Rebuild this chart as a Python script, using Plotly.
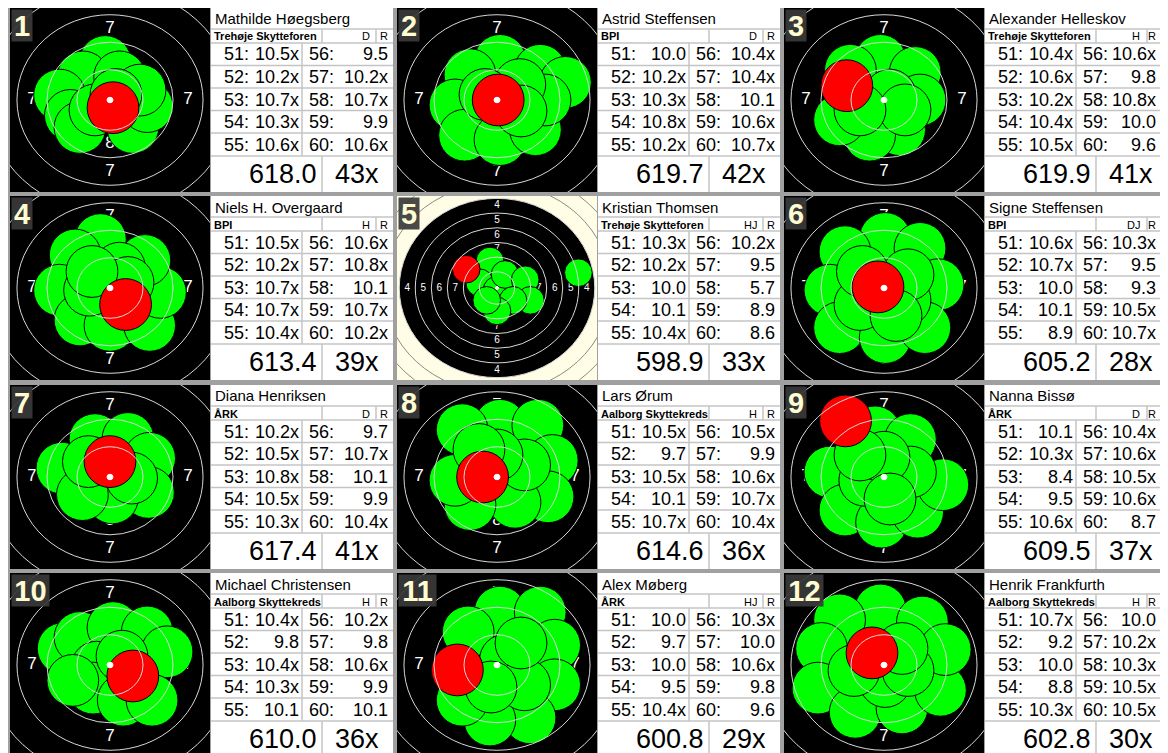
import plotly.graph_objects as go

W, H = 1168, 753              # reference picture size
OFF = 8                       # page body margin of the browser
FW, FH = W - 2 * OFF, H - OFF # visible figure size inside the page body
FONT = "Liberation Sans, Arial, sans-serif"

# ---------------- DATA ----------------
names = ["Mathilde Høegsberg", "Astrid Steffensen", "Alexander Helleskov",
         "Niels H. Overgaard", "Kristian Thomsen", "Signe Steffensen",
         "Diana Henriksen", "Lars Ørum", "Nanna Bissø",
         "Michael Christensen", "Alex Møberg", "Henrik Frankfurth"]
clubs = ["Trehøje Skytteforen", "BPI", "Trehøje Skytteforen",
         "BPI", "Trehøje Skytteforen", "BPI",
         "ÅRK", "Aalborg Skyttekreds", "ÅRK",
         "Aalborg Skyttekreds", "ÅRK", "Aalborg Skyttekreds"]
classes = ["D", "D", "H", "H", "HJ", "DJ", "D", "H", "D", "H", "HJ", "H"]
shot_numbers = [51, 52, 53, 54, 55, 56, 57, 58, 59, 60]
scores = [
    ["10.5x", "10.2x", "10.7x", "10.3x", "10.6x", "9.5", "10.2x", "10.7x", "9.9", "10.6x"],
    ["10.0", "10.2x", "10.3x", "10.8x", "10.2x", "10.4x", "10.4x", "10.1", "10.6x", "10.7x"],
    ["10.4x", "10.6x", "10.2x", "10.4x", "10.5x", "10.6x", "9.8", "10.8x", "10.0", "9.6"],
    ["10.5x", "10.2x", "10.7x", "10.7x", "10.4x", "10.6x", "10.8x", "10.1", "10.7x", "10.2x"],
    ["10.3x", "10.2x", "10.0", "10.1", "10.4x", "10.2x", "9.5", "5.7", "8.9", "8.6"],
    ["10.6x", "10.7x", "10.0", "10.1", "8.9", "10.3x", "9.5", "9.3", "10.5x", "10.7x"],
    ["10.2x", "10.5x", "10.8x", "10.5x", "10.3x", "9.7", "10.7x", "10.1", "9.9", "10.4x"],
    ["10.5x", "9.7", "10.5x", "10.1", "10.7x", "10.5x", "9.9", "10.6x", "10.7x", "10.4x"],
    ["10.1", "10.3x", "8.4", "9.5", "10.6x", "10.4x", "10.6x", "10.5x", "10.6x", "8.7"],
    ["10.4x", "9.8", "10.4x", "10.3x", "10.1", "10.2x", "9.8", "10.6x", "9.9", "10.1"],
    ["10.0", "9.7", "10.0", "9.5", "10.4x", "10.3x", "10.0", "10.6x", "9.8", "9.6"],
    ["10.7x", "9.2", "10.0", "8.8", "10.3x", "10.0", "10.2x", "10.3x", "10.5x", "10.5x"],
]
totals = ["618.0", "619.7", "619.9", "613.4", "598.9", "605.2",
          "617.4", "614.6", "609.5", "610.0", "600.8", "602.8"]
inner_tens = ["43x", "42x", "41x", "39x", "33x", "28x",
              "41x", "36x", "37x", "36x", "29x", "30x"]

# shot positions in mm from the target centre (last one = latest shot, red)
shots_x = [
    [-0.4, -2.25, -4.2, -3.3, -2.5, 1.9, 3.1, 0.8, 2.5, -1.25, 0.5, 0.25],
    [0.25, -2.25, 3.6, 5.7, -3.5, -2.7, 0.25, 3.2, 4.0, 1.9, -1.0, 2.0, 0.1],
    [-0.3, -2.8, 2.6, 3.0, 1.3, -1.2, -3.7, 0.5, 1.75, -2.0, -3.1],
    [-0.8, -2.9, -4.2, -2.5, 0.0, 3.3, 4.2, 2.9, 0.8, -1.7, 1.5, -1.5, 1.3],
    [-1.1, -2.7, 0.0, 1.25, 4.4, 5.2, 2.5, 0.0, -1.6, 12.7, -4.8],
    [0.1, -3.25, 3.0, -4.5, 4.5, -3.7, 0.1, 3.4, 1.75, -2.0, 2.0, -1.8, 1.0, -0.5],
    [-4.0, -1.25, 1.5, 3.3, 3.2, 0.2, -2.3, -1.8, 1.8, 0.0],
    [0.25, -2.9, 3.4, 4.6, 4.25, 1.5, -2.25, -3.5, 2.3, 0.0, -1.5, -1.2],
    [-0.75, 2.2, -4.5, -3.25, -0.2, 2.8, 4.9, 2.2, -1.6, 0.0, 0.5, -2.0, -3.2],
    [-3.9, -2.5, 0.25, 3.1, 4.75, -1.1, -1.4, 1.1, 3.5, -3.1, 1.0, 1.9],
    [0.25, 3.6, 4.8, 4.8, 2.75, -0.6, -2.9, -2.4, 0.7, 2.3, 2.0, -0.5, -3.3],
    [-0.3, -3.7, 3.2, -5.2, -5.5, -2.4, 1.5, 4.7, 5.1, 0.1, 2.0, -2.5, 1.5, -1.0],
]
shots_y = [
    [3.5, 2.1, 0.45, -1.4, -2.5, -2.5, -0.6, 2.1, 0.9, -0.9, 0.5, -0.7],
    [3.6, 2.3, 2.7, 1.6, -0.45, -3.2, -3.6, -2.7, 0.0, 1.4, 0.5, -1.0, 0.0],
    [3.6, 2.7, 2.5, 0.0, -2.7, -3.2, -1.8, 0.45, -0.9, -0.9, 1.3],
    [4.4, 3.0, -0.2, -2.9, -3.4, -3.4, -0.4, 2.5, 1.8, -0.2, 0.5, 1.5, -1.5],
    [4.6, 0.9, -0.35, 2.3, 1.4, -2.1, -2.1, -3.9, -2.1, 2.6, 3.2],
    [4.5, 3.3, 3.6, -0.2, 0.3, -3.6, -4.5, -3.6, -1.1, -1.5, 1.2, 1.5, -2.5, 0.1],
    [0.8, 3.4, 3.5, 1.7, -1.4, -1.9, -1.6, 1.4, -0.1, 1.4],
    [4.7, 4.3, 4.7, 1.5, -1.8, -2.3, -2.5, -0.3, 1.1, 2.0, 2.5, 0.0],
    [4.1, 3.4, 0.45, -3.0, -4.1, -3.2, -0.7, 0.45, -0.3, 1.8, -2.0, 2.0, 5.1],
    [1.5, 2.5, 3.4, 3.0, 1.2, -0.2, -2.1, -3.2, -3.2, -1.4, 0.8, -1.0],
    [4.8, 4.8, 1.8, -1.8, -4.8, -5.0, -3.2, 3.0, 0.45, -1.8, 2.0, -2.0, -0.45],
    [5.0, 4.1, 3.9, 1.5, -2.1, -4.3, -3.9, -2.3, 1.4, -1.5, -0.5, -0.5, 1.5, 1.1],
]

# air-rifle target geometry (mm)
ring_values = [10, 9, 8, 7, 6, 5, 4, 3, 2, 1]
ring_radii_mm = [0.25, 2.75, 5.25, 7.75, 10.25, 12.75, 15.25, 17.75, 20.25, 22.75]
label_values = [8, 7, 6, 5, 4]
black_ring = 4
shot_diameter_mm = 4.5

# ---------------- LAYOUT CONSTANTS (reference pixels) ----------------
COL_X = [10, 397, 784]
ROW_Y = [8, 196, 385, 573]
TGT_W, TGT_H = 200, 184
TBL_DX, TBL_W = 201, 182
ASPECT = 11 / 12
VIEW_HALF = [8.33] * 12
VIEW_HALF[4] = 15.6
GREEN, RED = "#00ff00", "#ff0000"
GRID = "#c4c4c4"
RIGHT = OFF + FW              # last visible reference pixel column
BOTTOM = OFF + FH             # last visible reference pixel row

rad = dict(zip(ring_values, ring_radii_mm))


def pxx(x):
    return (x - OFF) / FW


def pyy(y):
    return 1 - (y - OFF) / FH


fig = go.Figure()
shapes = []
annotations = []
layout_axes = {}

for i in range(12):
    c, r = i % 3, i // 3
    x0, y0 = COL_X[c], ROW_Y[r]
    h = min(TGT_H, BOTTOM - y0)
    half = VIEW_HALF[i]
    sx = TGT_W / (2 * half)
    sy = sx * ASPECT
    ax = "" if i == 0 else str(i + 1)
    xname, yname = "x" + ax, "y" + ax
    layout_axes["xaxis" + ax] = dict(domain=[max(0, pxx(x0)), min(1, pxx(x0 + TGT_W))],
                                     range=[-half, half], visible=False,
                                     anchor=yname, fixedrange=True)
    layout_axes["yaxis" + ax] = dict(domain=[max(0, pyy(y0 + h)), min(1, pyy(y0))],
                                     range=[-(h - TGT_H / 2) / sy, (TGT_H / 2) / sy],
                                     visible=False, anchor=xname, fixedrange=True)
    zoomed = half < 10
    diag = (half ** 2 + ((TGT_H / 2) / sy) ** 2) ** 0.5

    # panel 5: cream card with black aiming mark
    if not zoomed:
        shapes.append(dict(type="rect", xref=xname, yref=yname, x0=-3 * half, x1=3 * half,
                           y0=-3 * half, y1=3 * half, fillcolor="#fffde6",
                           line=dict(width=0), layer="below"))
        rb = rad[black_ring]
        shapes.append(dict(type="circle", xref=xname, yref=yname, x0=-rb, x1=rb, y0=-rb, y1=rb,
                           fillcolor="black", line=dict(width=0), layer="below"))

    # ring labels (under the shots)
    lx, ly, lt = [], [], []
    for v in label_values:
        m = (rad[v] + rad[v + 1]) / 2
        if m > half + 0.5:
            continue
        lx += [0, 0, -m, m]
        ly += [m, -m, 0, 0]
        lt += [str(v)] * 4
    fig.add_trace(go.Scatter(x=lx, y=ly, text=lt, mode="text", xaxis=xname, yaxis=yname,
                             textfont=dict(color="white", size=17 if zoomed else 10, family=FONT),
                             hoverinfo="skip"))

    # shots
    n = len(shots_x[i])
    fig.add_trace(go.Scatter(x=shots_x[i], y=shots_y[i], mode="markers",
                             xaxis=xname, yaxis=yname,
                             marker=dict(size=shot_diameter_mm * (sx + sy) / 2,
                                         color=[GREEN] * (n - 1) + [RED],
                                         line=dict(color="black", width=1), opacity=1),
                             hoverinfo="skip"))

    # rings on top
    for v in ring_values[1:]:
        rr = rad[v]
        if rr > diag:
            continue
        col = "#d8d8d8" if rr <= rad[black_ring] else "#8a8a8a"
        shapes.append(dict(type="circle", xref=xname, yref=yname, x0=-rr, x1=rr, y0=-rr, y1=rr,
                           line=dict(color=col, width=1), layer="above"))
    r10 = rad[10]
    shapes.append(dict(type="circle", xref=xname, yref=yname, x0=-r10, x1=r10, y0=-r10, y1=r10,
                       fillcolor="white", line=dict(color="white", width=1), layer="above"))

    # number badge
    label = str(i + 1)
    annotations.append(dict(x=pxx(x0 + 1), y=pyy(y0 + 1), xref="paper", yref="paper",
                            xanchor="left", yanchor="top", showarrow=False,
                            text="<b>%s</b>" % label,
                            font=dict(family=FONT, size=29, color="#fffbd2"),
                            bgcolor="rgba(58,58,58,0.92)", borderpad=0,
                            width=20 if len(label) == 1 else 37, height=31))

    # ---------- table ----------
    tx0 = x0 + TBL_DX
    lim = RIGHT - 2 - tx0          # keep right-hand texts on the visible page
    right_val = min(179, lim)
    class_x = min(161, lim - 16)
    div_dr = min(165, lim - 11)

    tx1 = tx0 + TBL_W
    ty1 = min(y0 + TGT_H, BOTTOM)
    shapes.append(dict(type="rect", xref="paper", yref="paper", x0=pxx(tx0), x1=min(1, pxx(tx1)),
                       y0=pyy(ty1), y1=pyy(y0), fillcolor="white",
                       line=dict(width=0), layer="below"))
    for yy in [21, 35, 57.5, 80, 102.5, 125, 148]:
        shapes.append(dict(type="line", xref="paper", yref="paper", x0=pxx(tx0),
                           x1=min(1, pxx(tx1)),
                           y0=pyy(y0 + yy), y1=pyy(y0 + yy), line=dict(color=GRID, width=1.5),
                           layer="below"))
    for xx, ya, yb in [(111, 21, 35), (div_dr, 21, 35), (91, 35, 148), (111, 148, 184)]:
        shapes.append(dict(type="line", xref="paper", yref="paper", x0=pxx(tx0 + xx),
                           x1=pxx(tx0 + xx), y0=pyy(y0 + ya), y1=pyy(min(y0 + yb, BOTTOM)),
                           line=dict(color=GRID, width=1.5), layer="below"))

    def txt(x, y, s, size, anchor="left", bold=False):
        annotations.append(dict(x=pxx(x), y=pyy(y), xref="paper", yref="paper",
                                xanchor=anchor, yanchor="middle", showarrow=False,
                                text=("<b>%s</b>" % s) if bold else s,
                                font=dict(family=FONT, size=size, color="black")))

    txt(tx0 + 2, y0 + 11, names[i], 15)
    txt(tx0 + 1, y0 + 28.5, clubs[i], 11, bold=True)
    txt(tx0 + class_x, y0 + 28.5, classes[i], 11, anchor="right")
    txt(tx0 + right_val, y0 + 28.5, "R", 11, anchor="right")
    row_mid = [46.5, 69, 91.5, 114, 136.5]
    for kk in range(10):
        col_i, row_i = kk // 5, kk % 5
        ly_ = y0 + row_mid[row_i]
        lx_ = tx0 + (11 if col_i == 0 else 96)
        vx_ = tx0 + (90 if col_i == 0 else right_val)
        txt(lx_, ly_, "%d:" % shot_numbers[kk], 18)
        txt(vx_, ly_, scores[i][kk], 18, anchor="right")
    txt(tx0 + 108, y0 + 166, totals[i], 27, anchor="right")
    txt(tx0 + 146, y0 + 166, inner_tens[i], 27, anchor="center")

fig.update_layout(width=FW, height=FH, margin=dict(l=0, r=0, t=0, b=0),
                  paper_bgcolor="#a0a0a0", plot_bgcolor="black", showlegend=False,
                  shapes=shapes, annotations=annotations, **layout_axes)
fig.write_html("out.html")
